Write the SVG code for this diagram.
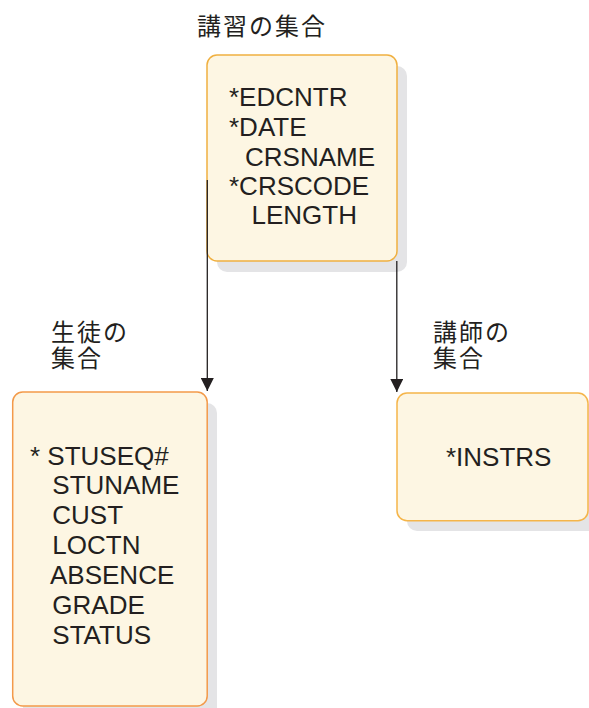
<svg xmlns="http://www.w3.org/2000/svg" width="589" height="708" viewBox="0 0 589 708">
<style>
.lbl{font-family:"Noto Sans CJK JP","Noto Sans CJK SC",sans-serif;font-size:24px;fill:#231f20;letter-spacing:2px}
.fld{font-family:"Liberation Sans",Arial,sans-serif;font-size:26px;fill:#231f20}
.box{fill:#fdf6e3;stroke-width:1.5}
.shadow{fill:#e4e4e6}
.conn{stroke:#231f20;stroke-width:1.3;fill:none}
</style>
<defs>
<marker id="arr" viewBox="0 0 13 13" refX="13" refY="6.5" markerWidth="13" markerHeight="13" markerUnits="userSpaceOnUse" orient="auto">
<path d="M0,0 L13,6.5 L0,13 Z" fill="#231f20"/>
</marker>
</defs>
<g id="node-course">
<text class="lbl" x="197" y="35">講習の集合</text>
<rect class="shadow" x="217" y="66" width="190" height="206" rx="10"/>
<rect class="box" x="207" y="55" width="190" height="206" rx="10" stroke="#f0b040"/>
<text class="fld" x="229" y="106">*EDCNTR</text>
<text class="fld" x="229" y="136">*DATE</text>
<text class="fld" x="245" y="165.5">CRSNAME</text>
<text class="fld" x="229" y="195">*CRSCODE</text>
<text class="fld" x="251.5" y="224">LENGTH</text>
</g>
<g id="node-student">
<text class="lbl"><tspan x="51" y="341">生徒の</tspan><tspan x="51" y="367">集合</tspan></text>
<rect class="shadow" x="23" y="403" width="194" height="320" rx="10"/>
<rect class="box" x="12.7" y="392" width="194.5" height="314" rx="10" stroke="#f39a4a"/>
<text class="fld" x="30" y="465" xml:space="preserve">* STUSEQ#</text>
<text class="fld" x="52.3" y="494.3">STUNAME</text>
<text class="fld" x="52.3" y="523.5">CUST</text>
<text class="fld" x="52.3" y="553.5">LOCTN</text>
<text class="fld" x="50" y="584">ABSENCE</text>
<text class="fld" x="52.3" y="614">GRADE</text>
<text class="fld" x="52.3" y="643.5">STATUS</text>
</g>
<g id="node-instructor">
<text class="lbl"><tspan x="433" y="341">講師の</tspan><tspan x="433" y="367">集合</tspan></text>
<rect class="shadow" x="407" y="404" width="192" height="127" rx="10"/>
<rect class="box" x="397" y="393" width="191" height="127.7" rx="10" stroke="#f5b54a"/>
<text class="fld" x="446" y="466">*INSTRS</text>
</g>
<g id="connectors">
<line class="conn" x1="207.3" y1="180" x2="207.3" y2="391" marker-end="url(#arr)"/>
<line class="conn" x1="396.8" y1="261" x2="396.8" y2="392" marker-end="url(#arr)"/>
</g>
</svg>
